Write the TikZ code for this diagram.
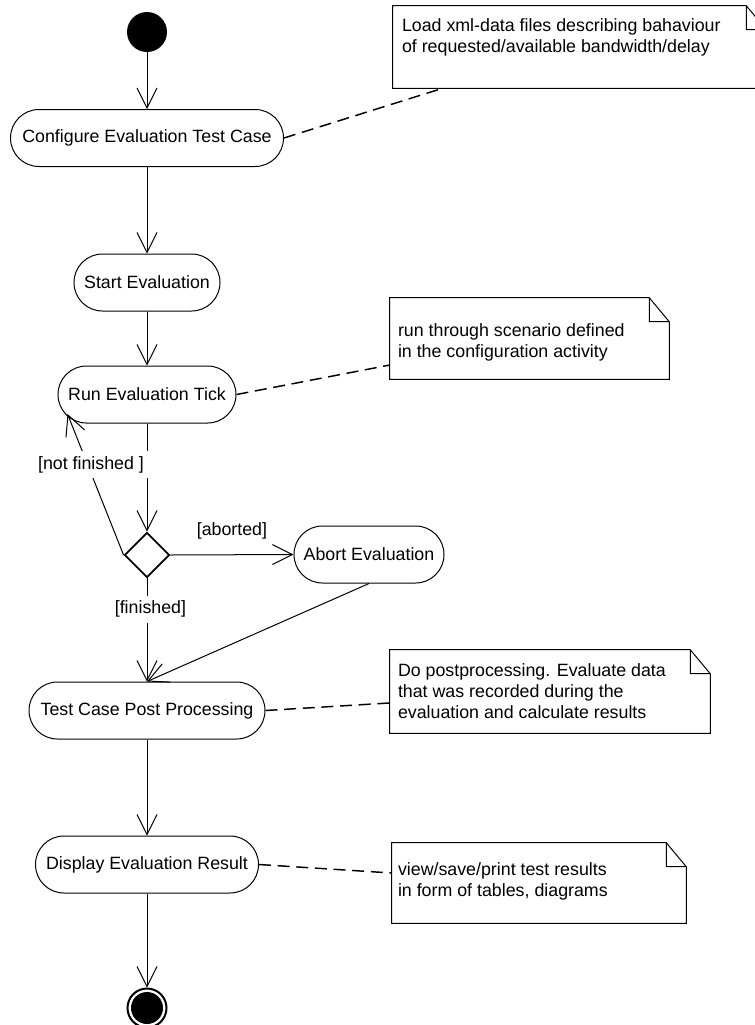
\documentclass[tikz,border=0pt]{standalone}
\usepackage{fontspec}
\setmainfont{Liberation Sans}
\usetikzlibrary{arrows.meta,shapes.geometric,calc}
\begin{document}
\begin{tikzpicture}[x=0.75pt,y=-0.75pt,
  font=\fontsize{13.35pt}{15.75pt}\selectfont,
  act/.style={draw, rectangle, rounded corners=21.3pt, minimum height=42.75pt, inner sep=0pt, line width=0.75pt},
  flow/.style={draw, line width=0.75pt, -{Straight Barb[length=15pt,width=15pt,line width=0.75pt]}},
  guard/.style={fill=white, inner sep=3.75pt},
  anchorline/.style={draw, line width=1.1pt, dash pattern=on 9pt off 5pt},
  notebox/.style={rectangle, inner sep=0pt, append after command={\pgfextra{\draw[line width=0.75pt]
      (\tikzlastnode.north west) -- ([xshift=-15pt]\tikzlastnode.north east) -- ([yshift=-18pt]\tikzlastnode.north east)
      -- (\tikzlastnode.south east) -- (\tikzlastnode.south west) -- cycle
      ([xshift=-15pt]\tikzlastnode.north east) |- ([yshift=-18pt]\tikzlastnode.north east);}}},
  notetext/.style={anchor=base west, align=left, inner sep=0pt},
]
\useasboundingbox (0,0) rectangle (755,1025);

% activity nodes
\node[circle, fill=black, minimum size=30pt, inner sep=0pt] (init) at (147,32) {};
\node[act, minimum width=204.75pt] (conf) at (147,138) {Configure Evaluation Test Case};
\node[act, minimum width=109.5pt] (start) at (147,282.5) {Start Evaluation};
\node[act, minimum width=133.5pt] (run) at (147,394.5) {Run Evaluation Tick};
\node[diamond, draw, line width=1.4pt, minimum width=33.75pt, minimum height=33.75pt, inner sep=0pt] (dec) at (147,555) {};
\node[act, minimum width=112.5pt] (abort) at (369,554.5) {Abort Evaluation};
\node[act, minimum width=177pt] (post) at (147,710.5) {Test Case Post Processing};
\node[act, minimum width=167.25pt] (disp) at (147,864.5) {Display Evaluation Result};
\node[circle, draw, line width=1.5pt, minimum size=29.25pt, inner sep=0pt] (final) at (147,1008) {};
\fill (final.center) circle (12pt);

% notes
\node[notebox, minimum width=279.75pt, minimum height=61.5pt] (n1) at (579.5,47) {};
\node[notetext] (t1) at ([xshift=6.75pt, yshift=-35.25pt]n1.north west) {Load xml-data files describing bahaviour\\of requested/available bandwidth/delay};
\node[notebox, minimum width=209.25pt, minimum height=60.75pt] (n2) at (529.5,338.5) {};
\node[notetext] (t2) at ([xshift=6pt, yshift=-45pt]n2.north west) {run through scenario defined\\in the configuration activity};
\node[notebox, minimum width=240pt, minimum height=62.25pt] (n3) at (550,691.5) {};
\node[notetext] (t3) at ([xshift=6pt, yshift=-51.75pt]n3.north west) {Do postprocessing. Evaluate data\\that was recorded during the\\evaluation and calculate results};
\node[notebox, minimum width=220.5pt, minimum height=60pt] (n4) at (539,883) {};
\node[notetext] (t4) at ([xshift=4.5pt, yshift=-40.5pt]n4.north west) {view/save/print test results\\in form of tables, diagrams};

% control flow
\draw[flow] (init.south) -- (conf.north);
\draw[flow] (conf.south) -- (start.north);
\draw[flow] (start.south) -- (run.north);
\draw[flow] (run.south) -- (dec.north);
\draw[flow] (dec.west) -- ([xshift=7.5pt,yshift=-14.6pt]run.west) node[guard, pos=0.64, xshift=2.5pt] {[not finished ]};
\draw[flow] (dec.east) -- (abort.west) node[pos=0.5, yshift=18pt] {[aborted]};
\draw[flow] (dec.south) -- (post.north) node[guard, pos=0.3, xshift=2.6pt] {[finished]};
\draw[flow] (abort.south) -- (post.north);
\draw[flow] (post.south) -- (disp.north);
\draw[flow] (disp.south) -- (final.north);

% note anchors
\draw[anchorline] (conf.east) -- ([xshift=37.5pt]n1.south west);
\draw[anchorline] (run.east) -- ([yshift=-19.9pt]n2.west);
\draw[anchorline] (post.east) -- ([yshift=-8.6pt]n3.west);
\draw[anchorline] (disp.east) -- ([yshift=7.5pt]n4.west);
\end{tikzpicture}
\end{document}
